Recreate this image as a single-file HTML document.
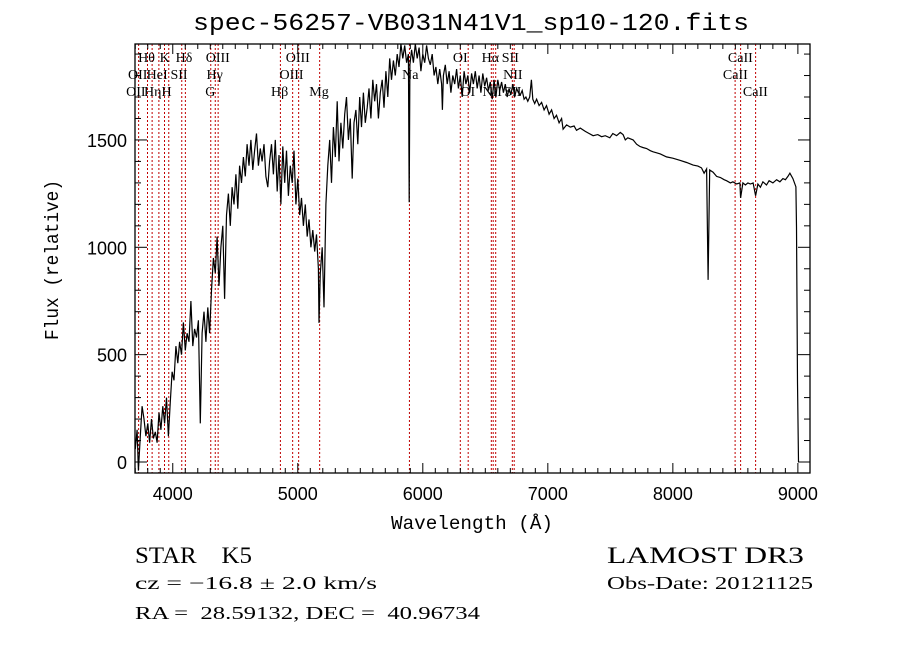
<!DOCTYPE html>
<html><head><meta charset="utf-8"><style>
html,body{margin:0;padding:0;background:#fff;}
svg{display:block;}
text{white-space:pre;}
</style></head><body>
<svg id="chart" width="900" height="649" viewBox="0 0 900 649" xmlns="http://www.w3.org/2000/svg" xml:space="preserve">
<rect width="900" height="649" fill="#fff"/>
<text x="471" y="30" text-anchor="middle" font-family="Liberation Mono, monospace" font-size="24" textLength="556" lengthAdjust="spacingAndGlyphs">spec-56257-VB031N41V1_sp10-120.fits</text>
<g id="lines"></g>
<g id="labels" font-family="Liberation Serif, serif" font-size="14"></g>
<path id="spec" fill="none" stroke="#000" stroke-width="1.2" stroke-linejoin="miter"/>
<g id="axes"></g>
<text x="472" y="529" text-anchor="middle" font-family="Liberation Mono, monospace" font-size="19" textLength="162" lengthAdjust="spacingAndGlyphs">Wavelength (Å)</text>
<text transform="translate(58,260) rotate(-90)" text-anchor="middle" font-family="Liberation Mono, monospace" font-size="19" textLength="160" lengthAdjust="spacingAndGlyphs">Flux (relative)</text>
<g font-family="Liberation Serif, serif">
<text x="135" y="563" font-size="23" textLength="117" lengthAdjust="spacingAndGlyphs">STAR    K5</text>
<text x="135" y="589" font-size="18" textLength="242" lengthAdjust="spacingAndGlyphs">cz = −16.8 ± 2.0 km/s</text>
<text x="135" y="619" font-size="18" textLength="345" lengthAdjust="spacingAndGlyphs">RA =  28.59132, DEC =  40.96734</text>
<text x="607" y="563" font-size="23" textLength="197" lengthAdjust="spacingAndGlyphs">LAMOST DR3</text>
<text x="607" y="589" font-size="18" textLength="206" lengthAdjust="spacingAndGlyphs">Obs-Date: 20121125</text>
</g>
</svg>
<script>
const wavelengths=[3700,3715,3725,3740,3755,3770,3785,3800,3815,3830,3845,3860,3875,3890,3905,3920,3935,3950,3965,3980,3995,
4010,4025,4040,4055,4070,4085,4100,4115,4130,4145,4160,4175,4190,4205,4220,4235,4250,4265,4280,4295,4310,4325,4340,4355,4370,4385,4400,4415,4430,4445,4460,4475,4490,4505,4520,4535,4550,4565,4580,4595,4610,4625,4640,4655,4670,4685,4700,4715,4730,4745,4760,4775,4790,4805,4820,4835,4850,4865,4880,4895,4910,4925,4940,4955,4970,4985,5000,
5015,5030,5045,5060,5075,5090,5105,5120,5135,5150,5165,5170,5180,5195,5210,5225,5240,5255,5270,5285,5300,5315,5330,5345,5360,5375,5390,5405,5420,5435,5450,5465,5480,5495,5510,5525,5540,5555,5570,5585,5600,5615,5630,5645,5660,5675,5690,5705,5720,5735,5750,5765,5780,5795,5810,5825,5840,5855,5870,5885,5891,5897,5910,5925,5940,5955,5970,5985,6000,
6015,6030,6045,6060,6075,6090,6105,6120,6135,6150,6157,6165,6180,6195,6210,6225,6240,6255,6270,6285,6300,6315,6330,6345,6360,6375,6390,6405,6420,6435,6450,6465,6480,6495,6510,6525,6540,6555,6570,6585,6600,6615,6630,6645,6660,6675,6690,6705,6720,6735,6750,6765,6780,6795,6810,6825,6840,6855,6869,6880,6895,6910,
6930,6950,6970,6989,7010,7030,7050,7069,7090,7110,7122,7150,7180,7210,7229,7260,7300,7330,7362,7400,7430,7460,7496,7520,7550,7580,7602,7620,7640,7682,7710,7736,7760,7790,7820,7842,7870,7900,7949,8000,8056,8110,8162,8200,8229,8250,8270,8282,8295,8322,8350,8380,8410,8429,8460,8480,8510,8536,8542,8560,8580,8600,8620,8642,8662,8680,8700,8720,8749,8770,8800,8830,8856,8880,8900,8920,8936,8960,8984,8989,8997,9005];
const fluxValues=[60,150,-40,120,260,200,120,180,90,200,110,140,90,230,150,260,180,300,120,280,420,
380,540,460,560,500,650,520,600,560,750,540,620,580,660,180,600,700,560,720,600,800,950,880,1050,820,1000,1100,760,1150,1250,1100,1280,1200,1340,1180,1380,1300,1420,1330,1480,1380,1500,1360,1450,1530,1380,1460,1400,1480,1330,1280,1400,1480,1340,1500,1260,1430,1200,1470,1300,1450,1240,1380,1300,1450,1200,1320,
1150,1230,1100,1200,1050,1130,1000,1080,980,1060,900,648,880,1000,720,1200,1380,1500,1300,1560,1420,1680,1400,1580,1460,1620,1700,1500,1600,1320,1580,1640,1480,1700,1560,1720,1580,1650,1740,1600,1780,1680,1760,1600,1720,1780,1650,1820,1700,1880,1780,1870,1800,1900,1840,1950,1880,1940,1860,1900,1210,1850,1920,1860,1950,1880,1930,1820,1900,
1860,1940,1880,1850,1900,1800,1840,1760,1830,1760,1640,1800,1850,1760,1820,1720,1800,1760,1830,1740,1800,1700,1820,1760,1800,1720,1810,1760,1820,1740,1800,1720,1810,1750,1790,1730,1770,1690,1780,1700,1780,1730,1770,1720,1760,1700,1740,1710,1760,1700,1740,1720,1710,1730,1690,1700,1680,1700,1780,1690,1670,1690,
1660,1675,1640,1660,1620,1640,1600,1615,1580,1600,1550,1570,1560,1565,1545,1555,1540,1530,1520,1525,1515,1520,1510,1530,1520,1535,1525,1500,1510,1500,1480,1470,1465,1460,1450,1445,1440,1435,1421,1415,1405,1395,1383,1378,1370,1345,1365,848,1360,1350,1330,1325,1315,1310,1300,1305,1295,1300,1230,1300,1290,1300,1295,1300,1240,1295,1280,1305,1290,1310,1300,1315,1305,1320,1315,1330,1345,1320,1282,1095,370,0];
const lineWaves=[3727,3798,3835,3889,3934,3968,4072,4101,4304,4340,4363,4861,4959,5007,5175,5893,6300,6363,6548,6563,6583,6716,6731,8498,8542,8662];
const labelTexts=["Hθ","K","Hδ","OIII","OIII","OI","Hα","SII","OII","HeI","SII","Hγ","OIII","Na","NII","OII","Hη","H","G","Hβ","Mg","OI","NII","SII","CaII","CaII","CaII"];
const labelWaves=[3790,3935,4090,4360,5000,6300,6540,6700,3720,3875,4050,4335,4950,5900,6720,3705,3840,3950,4300,4855,5170,6360,6555,6720,8540,8500,8660];
const labelRows=[0,0,0,0,0,0,0,0,1,1,1,1,1,1,1,2,2,2,2,2,2,2,2,2,0,1,2];
const xTicks=[4000,5000,6000,7000,8000,9000];
const yTicks=[0,500,1000,1500];

const L=135,R=810,T=44,B=473,XMIN=3698,XMAX=9097,Y0=462,YS=0.2147;
function xs(w){return L+(w-XMIN)/(XMAX-XMIN)*(R-L);}
function ys(f){return Y0-f*YS;}
const NS="http://www.w3.org/2000/svg";
function mk(tag,attrs,parent){const e=document.createElementNS(NS,tag);for(const k in attrs)e.setAttribute(k,attrs[k]);parent.appendChild(e);return e;}

let d="";
const n=Math.min(wavelengths.length,fluxValues.length);
for(let i=0;i<n;i++){d+=(i?"L":"M")+xs(wavelengths[i]).toFixed(1)+","+Math.max(T,Math.min(B,ys(fluxValues[i]))).toFixed(1);}
document.getElementById('spec').setAttribute('d',d);

const lg=document.getElementById('lines');
lineWaves.forEach(w=>{
  const l=mk('line',{x1:xs(w),x2:xs(w),y1:T,y2:B,stroke:'#c00000','stroke-width':1,'stroke-dasharray':'2,2'},lg);
  
  
});
const lb=document.getElementById('labels');
const rowY=[62,79,96];
labelTexts.forEach((t,i)=>{
  const e=mk('text',{x:xs(labelWaves[i]),y:rowY[labelRows[i]],'text-anchor':'middle'},lb);
  e.textContent=t;
  
  
});

const ax=document.getElementById('axes');
const fr=mk('rect',{x:L,y:T,width:R-L,height:B-T,fill:'none',stroke:'#000','stroke-width':1.3},ax);


for(let w=3700;w<=XMAX;w+=100){
  const major=w%1000===0, len=major?10:5, x=xs(w);
  mk('line',{x1:x,x2:x,y1:B,y2:B-len,stroke:'#000'},ax);
  mk('line',{x1:x,x2:x,y1:T,y2:T+len,stroke:'#000'},ax);
}
xTicks.forEach(w=>{
  const t=mk('text',{x:xs(w),y:500,'text-anchor':'middle','font-family':'Liberation Sans, sans-serif','font-size':18},ax);
  t.textContent=String(w);
  
  
});
for(let f=0;f<=1900;f+=100){
  const major=f%500===0, len=major?12:6, y=ys(f);
  mk('line',{x1:L,x2:L+len,y1:y,y2:y,stroke:'#000'},ax);
  mk('line',{x1:R,x2:R-len,y1:y,y2:y,stroke:'#000'},ax);
}
yTicks.forEach(f=>{
  const t=mk('text',{x:127,y:ys(f)+7,'text-anchor':'end','font-family':'Liberation Sans, sans-serif','font-size':18},ax);
  t.textContent=String(f);
  
  
});
</script>
</body></html>
